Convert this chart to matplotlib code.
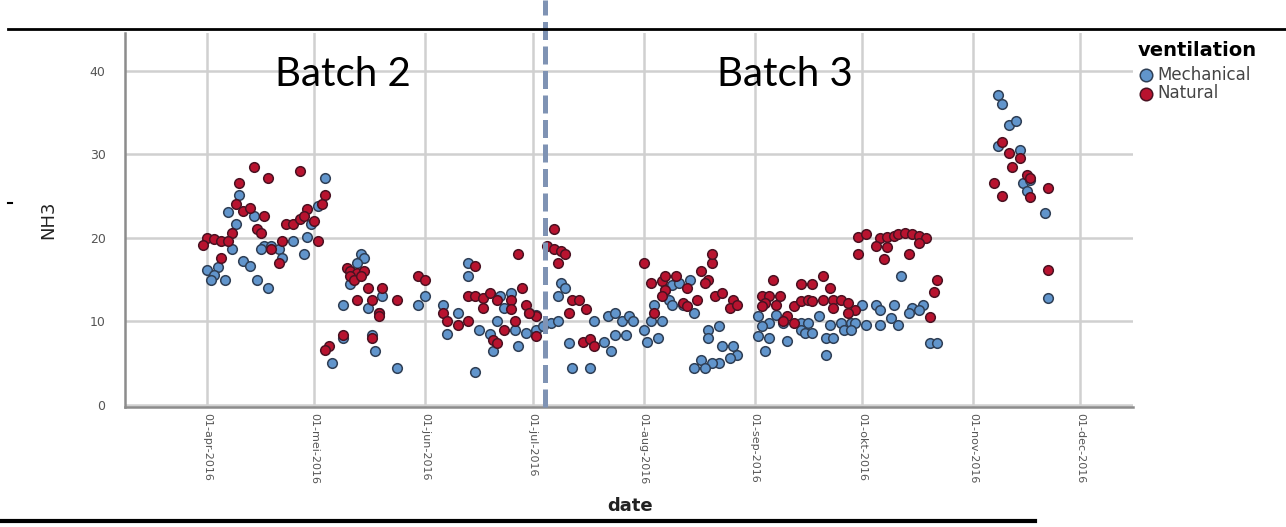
import matplotlib
matplotlib.use("Agg")
import matplotlib.pyplot as plt
from matplotlib.lines import Line2D
import pandas as pd

# ---------------- data (days since 01-apr-2016, NH3) ----------------
start_date = "2016-04-01"

mech_day = [33, 9, 6, 13, 8, 29, 31, 7, 16, 15, 18, 20, 24, 28, 27, 21, 10, 12, 0, 3, 2, 1, 5, 14, 17,
            43, 44, 42, 40, 49, 38, 45, 48, 61, 59, 73, 73, 66, 70, 67, 76, 79, 81, 82, 85, 83, 86, 89, 90, 92,
            87, 80, 92, 94, 96, 98, 38, 46, 47, 53, 35, 75, 99, 100, 98,
            101, 102, 107, 108, 112, 114, 116, 118, 119, 111, 113, 114, 117, 122, 123, 126, 124, 125, 127, 128,
            130, 132, 135, 129, 130, 133, 136, 140, 143, 140, 144, 147, 148, 146, 143, 141, 138, 136, 139,
            154, 159, 157, 155, 161, 166, 168, 171, 174, 177, 180, 181, 184, 188, 191, 193, 178, 180, 166, 167,
            169, 154, 157, 162, 173, 175, 156, 173,
            194, 183, 187, 188, 192, 197, 200, 199, 196, 202, 204,
            221, 222, 224, 226, 221, 227, 228, 230, 229, 234, 235]
mech_nh3 = [27.1, 25.1, 23.1, 22.6, 21.6, 21.7, 23.8, 18.6, 19.0, 18.6, 19.0, 18.6, 19.6, 20.1, 18.0, 17.6, 17.2, 16.6, 16.2, 16.5, 15.6, 15.0, 15.0, 15.0, 14.0,
            18.0, 17.6, 17.0, 14.5, 13.0, 12.0, 11.6, 11.0, 13.0, 12.0, 17.0, 15.4, 12.0, 11.0, 8.5, 9.0, 8.5, 10.0, 13.0, 13.4, 11.6, 9.0, 8.6, 11.0, 10.8,
            7.0, 6.4, 9.0, 9.4, 9.8, 10.0, 8.0, 8.4, 6.4, 4.4, 5.0, 3.9, 14.6, 14.0, 13.0,
            7.4, 4.4, 4.4, 10.0, 10.6, 11.0, 10.0, 10.6, 10.0, 7.5, 6.4, 8.4, 8.4, 9.0, 7.5, 8.0, 10.0, 12.0, 10.0, 13.8,
            14.4, 14.6, 15.0, 12.6, 12.0, 12.0, 11.0, 9.0, 9.5, 8.0, 7.0, 7.0, 6.0, 5.6, 5.0, 5.0, 5.4, 4.4, 4.4,
            10.6, 10.8, 9.8, 9.4, 9.8, 9.8, 9.8, 10.6, 9.6, 9.8, 9.8, 9.8, 9.6, 9.6, 10.4, 9.6, 9.0, 9.0, 9.0, 8.6,
            8.6, 8.2, 8.0, 7.6, 8.0, 8.0, 6.4, 6.0,
            15.4, 12.0, 12.0, 11.4, 12.0, 11.6, 12.0, 11.4, 11.0, 7.4, 7.4,
            37.1, 36.0, 33.5, 34.0, 31.0, 30.5, 26.5, 26.9, 25.6, 23.0, 12.8]

nat_day = [13, 17, 26, 9, 33, 8, 10, 12, 16, 28, 32, 22, 24, 26, 30, 27, 14, 15, 7, 0, 2, 4, 6, -1, 18, 21, 31, 4, 20,
           87, 97, 95, 97, 99, 100, 98, 39, 40, 42, 44, 40, 41, 43, 45, 49, 42, 46, 53, 48, 48, 59, 61, 75,
           73, 75, 77, 79, 81, 85, 88, 77, 85, 89, 66, 67, 70, 73, 80, 81, 83, 86, 92, 90, 92, 38, 34, 33, 46,
           102, 104, 106, 101, 105, 107, 108,
           122, 124, 127, 128, 131, 128, 134, 127, 133, 137, 134, 138, 140, 139, 141, 141, 125, 142, 144, 147, 146, 148, 158,
           166, 169, 172, 174, 155, 157, 160, 156, 159, 164, 166, 168, 169, 172, 175, 177, 179, 181, 179, 175, 162, 161, 164, 155,
           182, 184, 188, 190, 192, 193, 195, 197, 199, 201, 199, 187, 190, 182, 189, 196, 204, 203, 202,
           222, 224, 227, 225, 229, 230, 220, 222, 235, 230, 235]
nat_nh3 = [28.5, 27.1, 28.0, 26.5, 25.1, 24.0, 23.2, 23.6, 22.6, 23.5, 24.0, 21.6, 21.6, 22.3, 22.0, 22.6, 21.0, 20.6, 20.6, 20.0, 19.9, 19.6, 19.6, 19.1, 18.6, 19.6, 19.6, 17.6, 17.0,
           18.0, 21.0, 19.0, 18.6, 18.4, 18.0, 17.0, 16.4, 16.0, 15.8, 16.0, 15.4, 15.0, 15.4, 14.0, 14.0, 12.6, 12.6, 12.5, 11.0, 10.6, 15.4, 15.0, 16.6,
           13.0, 13.0, 12.8, 13.4, 12.6, 12.6, 14.0, 11.6, 11.5, 12.0, 11.0, 10.0, 9.6, 10.0, 7.8, 7.4, 9.0, 10.0, 10.6, 11.0, 8.2, 8.4, 7.0, 6.6, 8.0,
           12.6, 12.6, 11.5, 11.0, 7.5, 7.9, 7.0,
           17.0, 14.6, 14.8, 15.4, 15.4, 13.8, 14.0, 13.0, 12.2, 12.6, 11.8, 16.0, 15.0, 14.6, 17.0, 18.0, 11.0, 13.0, 13.4, 12.6, 11.6, 12.0, 15.0,
           14.5, 14.5, 15.4, 14.0, 13.0, 13.0, 13.0, 12.2, 12.0, 11.8, 12.4, 12.6, 12.4, 12.6, 12.6, 12.6, 12.2, 11.4, 11.0, 11.6, 10.6, 10.0, 9.8, 11.8,
           20.1, 20.5, 20.0, 20.1, 20.2, 20.5, 20.6, 20.5, 20.2, 20.0, 19.4, 19.0, 18.9, 18.0, 17.5, 18.0, 15.0, 13.5, 10.5,
           31.5, 30.1, 29.5, 28.5, 27.5, 27.1, 26.5, 25.0, 26.0, 24.9, 16.1]

tick_dates = ["2016-04-01", "2016-05-01", "2016-06-01", "2016-07-01", "2016-08-01",
              "2016-09-01", "2016-10-01", "2016-11-01", "2016-12-01"]
tick_labels = ["01-apr-2016", "01-mei-2016", "01-jun-2016", "01-jul-2016", "01-aug-2016",
               "01-sep-2016", "01-okt-2016", "01-nov-2016", "01-dec-2016"]
y_ticks = [0, 10, 20, 30, 40]
batch_split = "2016-07-04 12:00"
series_names = ["Mechanical", "Natural"]

# ---------------- figure ----------------
W, H = 1286, 527
fig = plt.figure(figsize=(W / 100, H / 100), dpi=100)
ax = fig.add_axes([125 / W, 1 - 407 / H, (1133 - 125) / W, (407 - 33) / H])

t0 = pd.Timestamp(start_date)
mech_dates = t0 + pd.to_timedelta(mech_day, unit="D")
nat_dates = t0 + pd.to_timedelta(nat_day, unit="D")

blue_fill, blue_edge = "#6195cc", "#2f3f55"
red_fill, red_edge = "#b8132f", "#4a1222"

s1 = ax.scatter(mech_dates, mech_nh3, s=48, c=blue_fill, edgecolors=blue_edge, linewidths=1.1, zorder=3,
                label=series_names[0])
s2 = ax.scatter(nat_dates, nat_nh3, s=48, c=red_fill, edgecolors=red_edge, linewidths=1.1, zorder=3,
                label=series_names[1])

ax.set_xlim(t0 - pd.Timedelta(days=22.9), t0 + pd.Timedelta(days=258.7))
ax.set_ylim(-0.25, 44.5)

ax.set_xticks(pd.to_datetime(tick_dates))
ax.set_xticklabels(tick_labels, rotation=270, fontsize=8, color="#555555", family="DejaVu Sans")
ax.set_yticks(y_ticks)
ax.set_yticklabels([str(v) for v in y_ticks], fontsize=9, color="#555555", family="DejaVu Sans")
ax.tick_params(axis="both", length=0)
ax.tick_params(axis="x", pad=4)
ax.tick_params(axis="y", pad=14)

ax.grid(True, color="#d0d0d0", lw=1.8, zorder=0)
ax.set_axisbelow(True)
for side in ["top", "right"]:
    ax.spines[side].set_visible(False)
for side in ["left", "bottom"]:
    ax.spines[side].set_color("#8c8c8c")
    ax.spines[side].set_linewidth(1.8)

ax.set_xlabel("date", fontsize=13, fontweight="bold", color="#222222")
ax.set_ylabel("NH3", fontsize=13, color="#222222")
ax.yaxis.set_label_coords(-(125 - 57) / 1008, 1 - (220 - 33) / 374)
ax.xaxis.set_label_coords((630 - 125) / 1008, -(497 - 407) / 374)

# dashed batch separator
ax.axvline(pd.Timestamp(batch_split), ymin=0, ymax=407 / 374, clip_on=False,
           color="#7f93b4", lw=3.6, linestyle=(0, (3.6, 1.3)), zorder=5)

# Batch labels
fig.text(343 / W, 1 - 75 / H, "Batch 2", fontsize=29, family="Lato", ha="center", va="center")
fig.text(785 / W, 1 - 75 / H, "Batch 3", fontsize=29, family="Lato", ha="center", va="center")

# legend
leg = fig.legend(handles=[s1, s2], labels=series_names, loc="upper left",
                 bbox_to_anchor=(1138 / W, 1 - 41 / H), frameon=False, title="ventilation",
                 alignment="left", title_fontproperties={"weight": "bold", "size": 14},
                 fontsize=12, handletextpad=0.15, labelspacing=0.05, borderpad=0,
                 handlelength=1.0, markerscale=1.3, borderaxespad=0)
leg._legend_box.sep = 4
for t in leg.get_texts():
    t.set_color("#444444")

# decorative rules
fig.add_artist(Line2D([8 / W, 1], [1 - 29 / H] * 2, color="black", lw=2))
fig.add_artist(Line2D([0, 1035 / W], [1 - 521 / H] * 2, color="black", lw=3))
fig.add_artist(Line2D([8 / W, 12 / W], [1 - 203 / H] * 2, color="black", lw=1.5))

fig.savefig("out.png", dpi=100)
